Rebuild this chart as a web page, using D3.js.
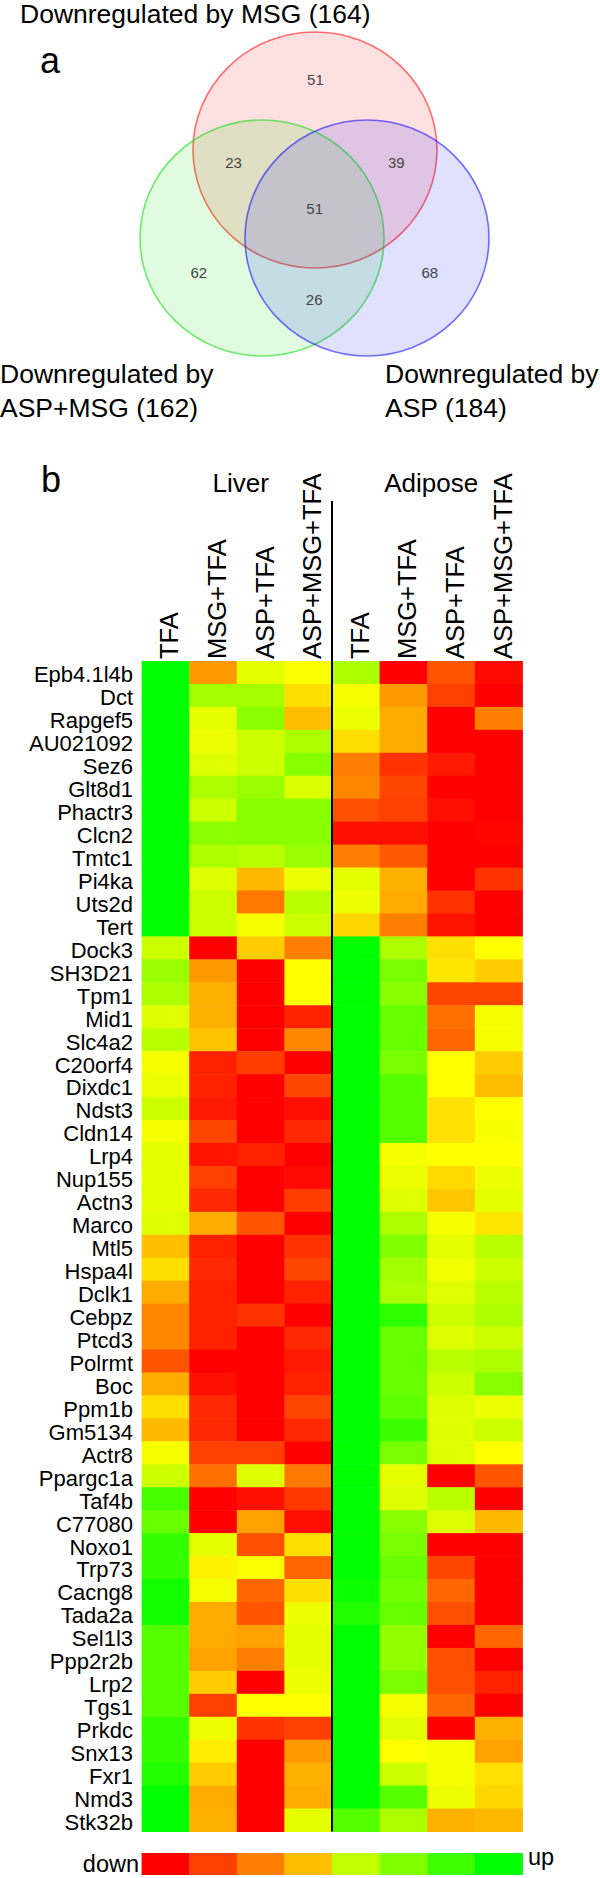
<!DOCTYPE html>
<html>
<head>
<meta charset="utf-8">
<script src="https://cdn.jsdelivr.net/npm/d3@7"></script>
<style>
  body { margin: 0; background: #fff; }
  svg { display: block; font-family: "Liberation Sans", Arial, Helvetica, sans-serif; }
</style>
</head>
<body>
<div id="chart"></div>
<script>
// ---- panel a: venn counts ----
const setNames = ["MSG", "ASP+MSG", "ASP"];
const setTotals = [164, 162, 184];
const regionSets = [["MSG"], ["MSG", "ASP+MSG"], ["MSG", "ASP"], ["MSG", "ASP+MSG", "ASP"], ["ASP+MSG"], ["ASP"], ["ASP+MSG", "ASP"]];
const regionCounts = [51, 23, 39, 51, 62, 68, 26];

// ---- panel b: heatmap ----
const tissues = ["Liver", "Adipose"];
const treatments = ["TFA", "MSG+TFA", "ASP+TFA", "ASP+MSG+TFA"];
const genes = ["Epb4.1l4b", "Dct", "Rapgef5", "AU021092", "Sez6", "Glt8d1", "Phactr3", "Clcn2", "Tmtc1", "Pi4ka",
  "Uts2d", "Tert", "Dock3", "SH3D21", "Tpm1", "Mid1", "Slc4a2", "C20orf4", "Dixdc1", "Ndst3", "Cldn14", "Lrp4",
  "Nup155", "Actn3", "Marco", "Mtl5", "Hspa4l", "Dclk1", "Cebpz", "Ptcd3", "Polrmt", "Boc", "Ppm1b", "Gm5134",
  "Actr8", "Ppargc1a", "Taf4b", "C77080", "Noxo1", "Trp73", "Cacng8", "Tada2a", "Sel1l3", "Ppp2r2b", "Lrp2",
  "Tgs1", "Prkdc", "Snx13", "Fxr1", "Nmd3", "Stk32b"];

// relative expression, -1 = down (red) ... 1 = up (green)
const liverValues = [
  [1, -0.4, 0.1, 0.02], [1, 0.35, 0.35, -0.13], [1, 0.1, 0.45, -0.25], [1, 0.07, 0.2, 0.33],
  [1, 0.13, 0.2, 0.47], [1, 0.33, 0.4, 0.15], [1, 0.2, 0.47, 0.47], [1, 0.45, 0.47, 0.47],
  [1, 0.33, 0.27, 0.4], [1, 0.13, -0.27, 0.07], [1, 0.2, -0.53, 0.27], [1, 0.2, 0.04, 0.2],
  [0.2, -1, -0.2, -0.5], [0.4, -0.4, -1, 0], [0.33, -0.31, -1, 0], [0.13, -0.31, -1, -0.87],
  [0.27, -0.23, -1, -0.47], [0.04, -0.87, -0.76, -1], [0.07, -0.87, -1, -0.73], [0.2, -0.9, -1, -0.95],
  [0.04, -0.73, -1, -0.84], [0.1, -0.92, -0.87, -1], [0.1, -0.75, -1, -0.96], [0.1, -0.84, -1, -0.76],
  [0.13, -0.33, -0.67, -1], [-0.25, -0.87, -1, -0.8], [-0.13, -0.84, -1, -0.73], [-0.33, -0.87, -1, -0.87],
  [-0.47, -0.87, -0.8, -1], [-0.47, -0.87, -1, -0.84], [-0.67, -1, -1, -0.9], [-0.33, -0.94, -1, -0.87],
  [-0.13, -0.84, -1, -0.73], [-0.27, -0.84, -1, -0.84], [0.04, -0.75, -0.75, -1], [0.2, -0.56, 0.13, -0.53],
  [0.73, -1, -0.94, -0.78], [0.6, -1, -0.37, -0.95], [0.8, 0.1, -0.69, -0.13], [0.8, -0.05, 0.02, -0.6],
  [0.93, 0.04, -0.6, -0.13], [0.93, -0.33, -0.67, 0.07], [0.67, -0.33, -0.37, 0.1], [0.67, -0.37, -0.5, 0.1],
  [0.67, -0.2, -1, 0.07], [0.67, -0.75, 0, 0], [0.8, 0.07, -0.8, -0.75], [0.8, -0.07, -1, -0.4],
  [0.87, -0.2, -1, -0.31], [1, -0.33, -1, -0.33], [1, -0.31, -1, 0.1]
];
const adiposeValues = [
  [0.33, -1, -0.67, -0.96], [0.04, -0.4, -0.75, -1], [0.07, -0.33, -1, -0.5], [-0.13, -0.33, -1, -1],
  [-0.5, -0.8, -0.9, -1], [-0.47, -0.73, -1, -1], [-0.69, -0.75, -0.94, -1], [-0.94, -0.94, -1, -0.98],
  [-0.5, -0.65, -1, -1], [0.1, -0.31, -1, -0.8], [0.07, -0.33, -0.8, -1], [-0.16, -0.5, -0.92, -1],
  [1, 0.33, -0.13, 0], [1, 0.53, -0.1, -0.2], [1, 0.47, -0.73, -0.73], [1, 0.6, -0.56, 0.04],
  [1, 0.6, -0.6, 0.04], [1, 0.53, 0, -0.2], [1, 0.67, 0, -0.25], [1, 0.67, -0.12, 0],
  [1, 0.67, -0.12, 0.03], [1, 0.04, 0, 0], [1, 0.07, -0.15, 0.07], [1, 0.13, -0.22, 0.1],
  [1, 0.33, 0.04, -0.1], [1, 0.5, 0.1, 0.27], [1, 0.37, 0.05, 0.2], [1, 0.33, 0.12, 0.27],
  [1, 0.83, 0.2, 0.33], [1, 0.6, 0.13, 0.2], [1, 0.6, 0.27, 0.33], [1, 0.6, 0.2, 0.47],
  [1, 0.63, 0.13, 0.07], [1, 0.77, 0.13, 0.2], [1, 0.53, 0.13, 0], [1, 0.1, -1, -0.67],
  [1, 0.13, 0.27, -1], [1, 0.47, 0.13, -0.27], [1, 0.53, -1, -1], [1, 0.6, -0.73, -1],
  [0.95, 0.55, -0.6, -1], [0.87, 0.6, -0.69, -1], [1, 0.43, -1, -0.6], [1, 0.43, -0.69, -1],
  [1, 0.53, -0.69, -0.87], [1, 0.04, -0.6, -1], [1, 0.12, -1, -0.31], [1, 0, 0.04, -0.37],
  [1, 0.2, 0.04, -0.12], [1, 0.67, 0.07, -0.16], [0.67, 0.33, -0.31, -0.28]
];

// legend bins
const legendValues = [-1, -0.75, -0.5, -0.25, 0.25, 0.5, 0.75, 1];

const width = 600,
    height = 1878;

let svg = d3.select("#chart")
    .append("svg")
    .attr("width", width)
    .attr("height", height);

// ================= panel a =================
const rx = 122, ry = 118;
const circles = {
    "MSG":     { cx: 315, cy: 150, color: "#ff0000" },
    "ASP+MSG": { cx: 262, cy: 238, color: "#00dd00" },
    "ASP":     { cx: 367, cy: 238, color: "#0000ff" }
};

let venn = svg.append("g").attr("class", "venn");

venn.selectAll("ellipse")
    .data(setNames)
    .join("ellipse")
    .attr("cx", d => circles[d].cx)
    .attr("cy", d => circles[d].cy)
    .attr("rx", rx)
    .attr("ry", ry)
    .attr("fill", d => circles[d].color)
    .attr("fill-opacity", 0.12)
    .attr("stroke", d => circles[d].color)
    .attr("stroke-opacity", 0.55)
    .attr("stroke-width", 1.6);

// region labels pushed out from the centroid toward the sets they belong to
const centroid = {
    x: d3.mean(setNames, d => circles[d].cx),
    y: d3.mean(setNames, d => circles[d].cy)
};
const push = { 1: 2.2, 2: 3.1, 3: 0 };

venn.selectAll(".count")
    .data(regionCounts)
    .join("text")
    .attr("class", "count")
    .attr("x", (d, i) => {
        let s = regionSets[i];
        return centroid.x + push[s.length] * (d3.mean(s, k => circles[k].cx) - centroid.x);
    })
    .attr("y", (d, i) => {
        let s = regionSets[i];
        return centroid.y + push[s.length] * (d3.mean(s, k => circles[k].cy) - centroid.y);
    })
    .attr("text-anchor", "middle")
    .attr("dy", "0.35em")
    .style("font-size", "15px")
    .style("fill", "#444")
    .text(d => d);

// set titles
venn.append("text")
    .attr("x", 20)
    .attr("y", 23)
    .style("font-size", "26.5px")
    .text(`Downregulated by ${setNames[0]} (${setTotals[0]})`);

let bottomLabels = venn.selectAll(".set-label")
    .data([1, 2])
    .join("text")
    .attr("class", "set-label")
    .attr("x", (d, i) => i === 0 ? 0 : 385)
    .attr("y", 383)
    .style("font-size", "26.5px");

bottomLabels.append("tspan")
    .text("Downregulated by");
bottomLabels.append("tspan")
    .attr("x", (d, i) => i === 0 ? 0 : 385)
    .attr("dy", 33.5)
    .text(d => `${setNames[d]} (${setTotals[d]})`);

svg.append("text")
    .attr("x", 40)
    .attr("y", 73)
    .style("font-size", "36px")
    .text("a");

// ================= panel b =================
const columns = tissues.flatMap(t => treatments.map(c => t + "|" + c));

let x = d3.scaleBand()
    .domain(columns)
    .range([141.6, 522.4]);

let y = d3.scaleBand()
    .domain(genes)
    .range([661, 1831.5]);

let color = d3.scaleLinear()
    .domain([-1, 0, 1])
    .range(["#ff0000", "#ffff00", "#00ff00"]);

// flatten the two tissue tables into cells
let cells = [];
genes.forEach((g, i) => {
    treatments.forEach((c, j) => {
        cells.push({ gene: g, col: "Liver|" + c, value: liverValues[i][j] });
        cells.push({ gene: g, col: "Adipose|" + c, value: adiposeValues[i][j] });
    });
});

svg.append("g")
    .selectAll("rect")
    .data(cells)
    .join("rect")
    .attr("x", d => x(d.col))
    .attr("y", d => y(d.gene))
    .attr("width", x.bandwidth() + 0.5) // tiny overlap so no seams
    .attr("height", y.bandwidth() + 0.5)
    .attr("fill", d => color(d.value));

// gene names
svg.append("g")
    .selectAll("text")
    .data(genes)
    .join("text")
    .attr("x", 133)
    .attr("y", d => y(d) + y.bandwidth() / 2)
    .attr("dy", "0.45em")
    .attr("text-anchor", "end")
    .style("font-size", "22px")
    .text(d => d);

// treatment names, rotated
svg.append("g")
    .selectAll("text")
    .data(columns)
    .join("text")
    .attr("transform", d => `translate(${x(d) + x.bandwidth() / 2 + 13},659) rotate(-90)`)
    .attr("text-anchor", "start")
    .style("font-size", "25.5px")
    .text(d => d.split("|")[1]);

// tissue headers
svg.append("g")
    .selectAll("text")
    .data(tissues)
    .join("text")
    .attr("x", (d, i) => x(d + "|" + treatments[0]) + 2 * x.bandwidth() + 4)
    .attr("y", 492)
    .attr("text-anchor", "middle")
    .style("font-size", "26px")
    .text(d => d);

// divider between liver and adipose
svg.append("line")
    .attr("x1", x("Adipose|TFA"))
    .attr("x2", x("Adipose|TFA"))
    .attr("y1", 501)
    .attr("y2", 1831.5)
    .attr("stroke", "black")
    .attr("stroke-width", 2);

svg.append("text")
    .attr("x", 41)
    .attr("y", 492)
    .style("font-size", "36px")
    .text("b");

// legend
let lx = d3.scaleBand()
    .domain(legendValues)
    .range([141.6, 522.4]);

svg.append("g")
    .selectAll("rect")
    .data(legendValues)
    .join("rect")
    .attr("x", d => lx(d))
    .attr("y", 1853)
    .attr("width", lx.bandwidth() + 0.5)
    .attr("height", 22)
    .attr("fill", d => color(d));

svg.append("text")
    .attr("x", 139)
    .attr("y", 1872)
    .attr("text-anchor", "end")
    .style("font-size", "23.5px")
    .text("down");

svg.append("text")
    .attr("x", 528)
    .attr("y", 1865)
    .style("font-size", "23.5px")
    .text("up");
</script>
</body>
</html>
